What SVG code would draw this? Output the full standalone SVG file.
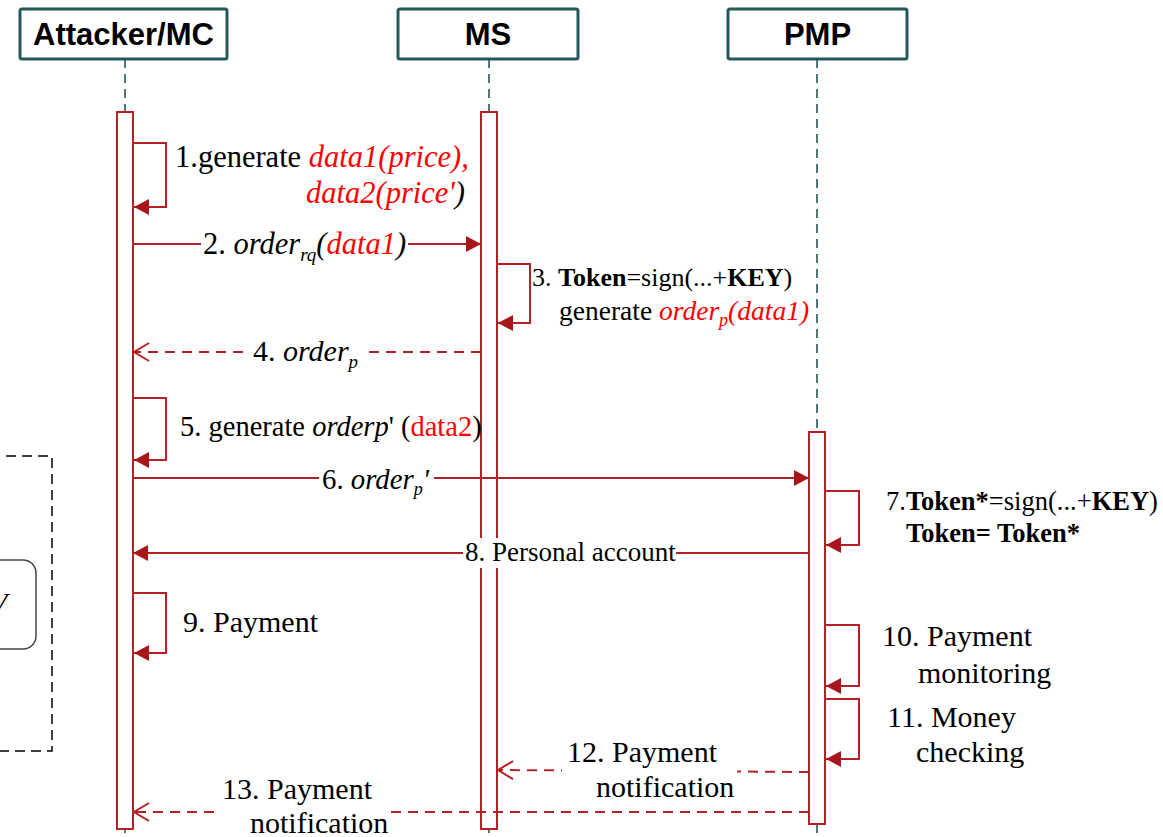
<svg xmlns="http://www.w3.org/2000/svg" width="1163" height="837" viewBox="0 0 1163 837">
  <style>
    .head { fill: #ffffff; stroke: #24585a; stroke-width: 3; }
    .htxt { font-family: "Liberation Sans", Arial, sans-serif; font-weight: bold; font-size: 31px; fill: #000; text-anchor: middle; }
    .life { stroke: #24585a; stroke-width: 1.6; stroke-dasharray: 9 6; fill: none; }
    .bar { fill: #ffffff; stroke: #b52025; stroke-width: 2; }
    .msg { stroke: #b52025; stroke-width: 2; fill: none; }
    .dash { stroke: #b52025; stroke-width: 2; fill: none; stroke-dasharray: 10 7; }
    .t { font-family: "Liberation Serif", "Times New Roman", serif; fill: #000; }
    .it { font-style: italic; }
    .b { font-weight: bold; }
    .red { fill: #ff0000; }
    .bg { fill: #ffffff; stroke: none; }
  </style>
  <defs>
    <marker id="solid" markerWidth="16" markerHeight="16" refX="15" refY="8" orient="auto" markerUnits="userSpaceOnUse">
      <path d="M0,0 L15,8 L0,16 Z" fill="#a8151a"/>
    </marker>
    <marker id="open" markerWidth="18" markerHeight="20" refX="16" refY="10" orient="auto" markerUnits="userSpaceOnUse">
      <path d="M1,1 L16,10 L1,19" fill="none" stroke="#b52025" stroke-width="2"/>
    </marker>
  </defs>

  <rect width="1163" height="837" fill="#ffffff"/>

  <!-- partial frame at the left edge -->
  <g id="side-frame">
    <rect x="-10" y="456" width="62" height="295" fill="none" stroke="#000" stroke-width="1.5" stroke-dasharray="10 6"/>
    <rect x="-30" y="560" width="66" height="89" rx="13" fill="none" stroke="#444" stroke-width="1.5"/>
    <text class="t it" x="-11" y="613" font-size="30">V</text>
  </g>

  <!-- lifelines -->
  <g id="lifelines">
    <line class="life" x1="125" y1="59" x2="125" y2="837"/>
    <line class="life" x1="489" y1="59" x2="489" y2="837"/>
    <line class="life" x1="817" y1="59" x2="817" y2="837"/>
  </g>

  <!-- participants -->
  <g id="attacker">
    <rect class="head" x="20" y="9" width="207" height="50" rx="2"/>
    <text class="htxt" x="123.5" y="45">Attacker/MC</text>
    <rect class="bar" x="117" y="112" width="16" height="717"/>
  </g>
  <g id="ms">
    <rect class="head" x="398" y="9" width="180" height="50" rx="2"/>
    <text class="htxt" x="488" y="45">MS</text>
    <rect class="bar" x="481" y="112" width="16" height="717"/>
  </g>
  <g id="pmp">
    <rect class="head" x="728" y="9" width="179" height="50" rx="2"/>
    <text class="htxt" x="817.5" y="45">PMP</text>
    <rect class="bar" x="809" y="432" width="16" height="392"/>
  </g>

  <!-- messages -->
  <g id="connectors">
    <!-- 1 self -->
    <path class="msg" d="M133,143 H166 V207 H134" marker-end="url(#solid)"/>
    <!-- 2 -->
    <line class="msg" x1="133" y1="244" x2="481" y2="244" marker-end="url(#solid)"/>
    <rect class="bg" x="201" y="226" width="207" height="36"/>
    <!-- 3 self -->
    <path class="msg" d="M497,264 H530 V323 H498" marker-end="url(#solid)"/>
    <!-- 4 -->
    <line class="dash" x1="481" y1="352" x2="134" y2="352" marker-end="url(#open)"/>
    <rect class="bg" x="250" y="336" width="112" height="34"/>
    <!-- 5 self -->
    <path class="msg" d="M133,398 H166 V460 H134" marker-end="url(#solid)"/>
    <!-- 6 -->
    <line class="msg" x1="133" y1="478" x2="809" y2="478" marker-end="url(#solid)"/>
    <rect class="bg" x="319" y="462" width="115" height="34"/>
    <!-- 7 self -->
    <path class="msg" d="M825,491 H859 V545 H826" marker-end="url(#solid)"/>
    <!-- 8 -->
    <line class="msg" x1="809" y1="553" x2="133" y2="553" marker-end="url(#solid)"/>
    <rect class="bg" x="463" y="538" width="213" height="30"/>
    <!-- 9 self -->
    <path class="msg" d="M133,593 H166 V653 H134" marker-end="url(#solid)"/>
    <!-- 10 self -->
    <path class="msg" d="M825,625 H859 V686 H826" marker-end="url(#solid)"/>
    <!-- 11 self -->
    <path class="msg" d="M825,699 H859 V759 H826" marker-end="url(#solid)"/>
    <!-- 12 -->
    <line class="dash" x1="809" y1="772" x2="498" y2="770" marker-end="url(#open)"/>
    <rect class="bg" x="562" y="735" width="175" height="70"/>
    <!-- 13 -->
    <line class="dash" x1="809" y1="812" x2="134" y2="812" marker-end="url(#open)"/>
    <rect class="bg" x="219" y="775" width="171" height="62"/>
  </g>

  <!-- labels -->
  <g id="labels">
    <text class="t" x="175" y="167" font-size="30.5">1.generate <tspan class="it red">data1(price),</tspan></text>
    <text class="t it" x="465" y="203" font-size="30.5" text-anchor="end"><tspan class="red">data2(price'</tspan>)</text>

    <text class="t" x="203" y="254" font-size="30.5">2. <tspan class="it">order</tspan><tspan class="it" font-size="19" dy="7">rq</tspan><tspan class="it" dy="-7">(</tspan><tspan class="it red">data1</tspan><tspan class="it">)</tspan></text>

    <text class="t" x="532" y="286" font-size="26">3. <tspan class="b">Token</tspan>=sign(...+<tspan class="b">KEY</tspan>)</text>
    <text class="t" x="559" y="320" font-size="27.5">generate <tspan class="it red">order</tspan><tspan class="it red" font-size="18" dy="6">p</tspan><tspan class="it red" dy="-6">(data1)</tspan></text>

    <text class="t" x="253" y="361" font-size="30">4. <tspan class="it">order</tspan><tspan class="it" font-size="19" dy="7">p</tspan></text>

    <text class="t" x="180" y="436" font-size="28.5">5. generate <tspan class="it">orderp</tspan>' (<tspan class="red">data2</tspan>)</text>

    <text class="t" x="322" y="489" font-size="28.8">6. <tspan class="it">order</tspan><tspan class="it" font-size="18" dy="6">p</tspan><tspan class="it" dy="-6">'</tspan></text>

    <text class="t" x="886" y="510" font-size="26.5">7.<tspan class="b">Token*</tspan>=sign(...+<tspan class="b">KEY</tspan>)</text>
    <text class="t b" x="906" y="542" font-size="26.5">Token= Token*</text>

    <text class="t" x="465" y="561" font-size="27">8. Personal account</text>

    <text class="t" x="183" y="632" font-size="30">9. Payment</text>

    <text class="t" x="882" y="646" font-size="30">10. Payment</text>
    <text class="t" x="918" y="683" font-size="30">monitoring</text>

    <text class="t" x="887" y="727" font-size="30">11. Money</text>
    <text class="t" x="916" y="762" font-size="30">checking</text>

    <text class="t" x="567" y="762" font-size="30">12. Payment</text>
    <text class="t" x="596" y="797" font-size="30">notification</text>

    <text class="t" x="222" y="799" font-size="30">13. Payment</text>
    <text class="t" x="250" y="833" font-size="30">notification</text>
  </g>
</svg>
